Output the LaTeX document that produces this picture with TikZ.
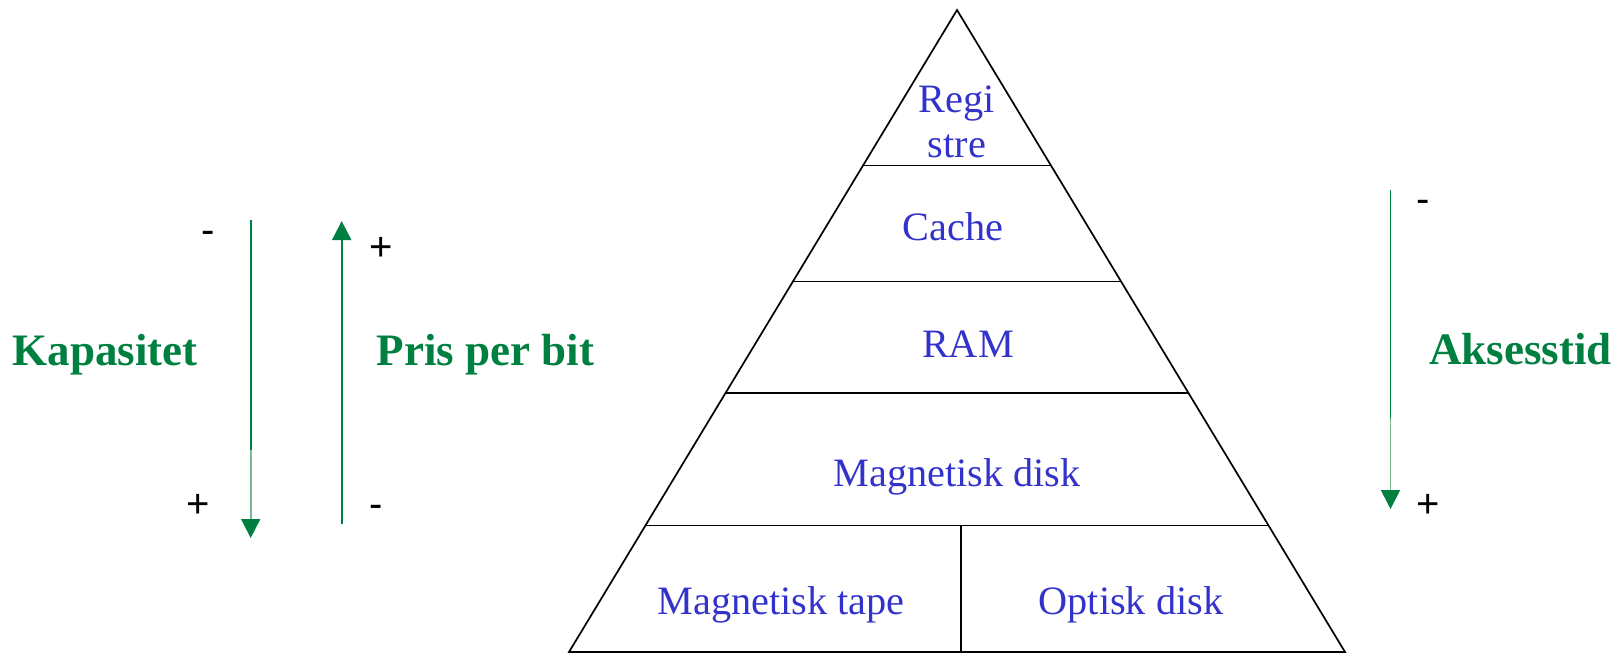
\documentclass[tikz,border=0pt]{standalone}
\usepackage{fontspec}
\setmainfont{Liberation Serif}
\newfontfamily\signfont{Liberation Sans}
\usetikzlibrary{arrows.meta,calc}
\definecolor{dgreen}{RGB}{0,128,64}
\definecolor{lgreen}{RGB}{120,185,145}
\definecolor{tblue}{RGB}{51,51,204}
\begin{document}
\begin{tikzpicture}[x=1pt,y=-1pt,
  tier/.style={draw=black,line width=1.7pt},
  lvl/.style={text=tblue,font=\fontsize{40.3}{45}\selectfont,inner sep=0pt,anchor=base},
  glabel/.style={text=dgreen,font=\fontsize{45}{50}\selectfont\bfseries,inner sep=0pt,anchor=base},
  sign/.style={font=\signfont\fontsize{40}{44}\selectfont,inner sep=0pt,anchor=base},
  gline/.style={draw=dgreen,line width=1.8pt},
  lline/.style={draw=lgreen,line width=1.8pt},
  gtip/.style={-{Triangle[width=19pt,length=19pt,color=dgreen]}}]
\useasboundingbox (0,0) rectangle (1622,654);
% pyramid
\coordinate (apex) at (957,10);
\coordinate (bl) at (569,652);
\coordinate (br) at (1345,652);
\draw[tier,line join=miter] (apex) -- (bl) -- (br) -- cycle;
\foreach \t/\n in {0.2422/a,0.4227/b,0.5966/c,0.8030/d}{
  \coordinate (l\n) at ($(apex)!\t!(bl)$);
  \coordinate (r\n) at ($(apex)!\t!(br)$);
  \draw[tier] (l\n) -- (r\n);
}
\coordinate (divtop) at (961,525.5);
\coordinate (divbot) at (961,652);
\draw[tier] (divtop) -- (divbot);
% level labels
\node[lvl,align=center,anchor=center] (reg) at (957,122) {Regi\\stre};
\node[lvl] (cache) at (953,240) {Cache};
\node[lvl] (ram) at (968,357) {RAM};
\node[lvl] (mdisk) at (957,486) {Magnetisk disk};
\node[lvl] (mtape) at (781,614) {Magnetisk tape};
\node[lvl] (odisk) at (1131,614) {Optisk disk};
% Kapasitet arrow (down)
\coordinate (k1) at (250.7,220);
\coordinate (km) at (250.7,450);
\coordinate (k2) at (250.7,538);
\draw[gline] (k1) -- (km);
\draw[lline,gtip] (km) -- (k2);
% Pris per bit arrow (up)
\coordinate (p1) at (341.7,524);
\coordinate (p2) at (341.7,221);
\draw[gline,gtip] (p1) -- (p2);
\node[glabel] (kap) at (105,365) {Kapasitet};
\node[glabel] (pris) at (485.5,365) {Pris per bit};
\node[sign] (kminus) at (208,243.6) {-};
\node[sign] (kplus) at (198,517) {+};
\node[sign] (pplus) at (380.7,260) {+};
\node[sign] (pminus) at (375.7,517) {-};
% Aksesstid arrow (down)
\coordinate (a1) at (1390.5,190);
\coordinate (am) at (1390.5,418);
\coordinate (a2) at (1390.5,509);
\draw[gline] (a1) -- (am);
\draw[lline,gtip] (am) -- (a2);
\node[glabel] (aks) at (1520.5,364) {Aksesstid};
\node[sign] (aminus) at (1423,212) {-};
\node[sign] (aplus) at (1428,517) {+};
\end{tikzpicture}
\end{document}
